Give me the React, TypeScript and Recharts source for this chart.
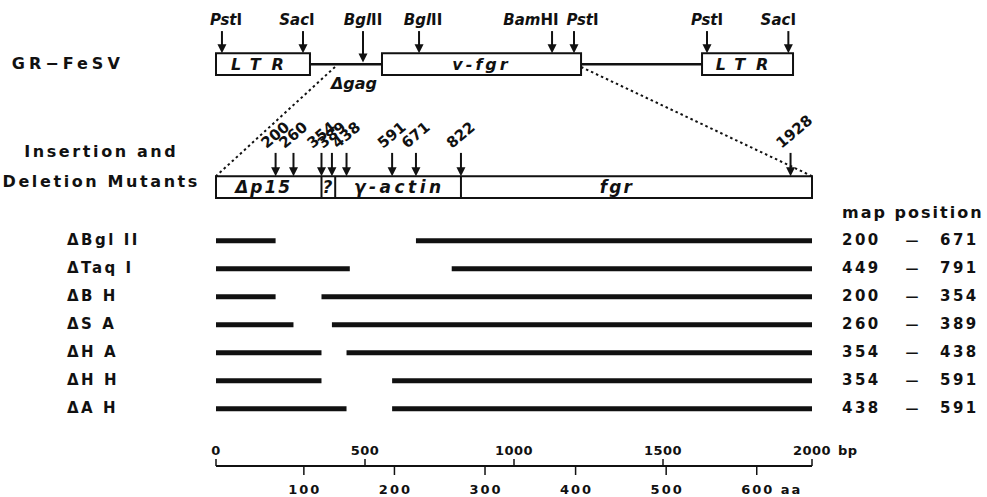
import React from 'react';
import { ComposedChart, XAxis, YAxis, Line, ReferenceArea, ReferenceLine, ReferenceDot } from 'recharts';

// deletion mutants: map positions (bp) of the deleted stretch
const mutantNames = ['ΔBgl II', 'ΔTaq I', 'ΔB H', 'ΔS A', 'ΔH A', 'ΔH H', 'ΔA H'];
const deletionStart = [200, 449, 200, 260, 354, 354, 438];
const deletionEnd = [671, 791, 354, 389, 438, 591, 591];

// insertion sites on the expanded map
const insertionSites = [200, 260, 354, 389, 438, 591, 671, 822, 1928];

// domains of the insert
const regionNames = ['Δp15', '?', 'γ-actin', 'fgr'];
const regionBounds = [0, 354, 400, 822, 2000];
const regionLabelAt = [160, 377, 615, 1345];

// provirus map (genome units)
const boxNames = ['LTR', 'v-fgr', 'LTR'];
const boxStart = [0, 1671, 4893];
const boxEnd = [946, 3675, 5809];
const siteEnzymes = ['PstI', 'SacI', 'BglII', 'BglII', 'BamHI', 'PstI', 'PstI', 'SacI'];
const sitePos = [60, 876, 1480, 2044, 3383, 3604, 4943, 5762];
const siteLabelAt = [101, 815, 1480, 2084, 3171, 3690, 4943, 5661];
const gagDeletionAt = 1198;
const gagLabelAt = 1389;

const bpTicks = [0, 500, 1000, 1500, 2000];
const aaTicks = [100, 200, 300, 400, 500, 600];

const BP_MAX = 2000;
const GENOME_MAX = 6000;
const AA_DOMAIN: [number, number] = [3, 661];

// extent of each x scale (bp, amino acids, provirus)
const axisFrame = [
  { x: 0, aa: AA_DOMAIN[0], g: 0 },
  { x: BP_MAX, aa: AA_DOMAIN[1], g: GENOME_MAX },
];

// vertical layout, in row units (one row per mutant)
const ROW_DOMAIN: [number, number] = [-8.6, 8.04];
const GENOME_Y = -6.31;
const BOX_HALF = 0.39;
const SITE_TOP = -7.49;
const SITE_LABEL_Y = -7.71;
const INS_TOP = -2.31;
const INS_BOTTOM = -1.53;
const INS_ARROW_TOP = -3.14;
const rowIndex = mutantNames.map((_, i) => i);

const FONT = '"DejaVu Sans", Verdana, sans-serif';
const INK = '#111';
const boldText = { fontFamily: FONT, fontSize: 15, fontWeight: 700, fill: INK, letterSpacing: 2.5 };
const titleText = { fontFamily: FONT, fontSize: 16, fontWeight: 700, fill: INK, letterSpacing: 2.6 };
const italicText = { fontFamily: FONT, fontSize: 16, fontStyle: 'italic', fontWeight: 700, fill: INK };

const Arrow = (p: any) => {
  const { x1, y1, x2, y2 } = p;
  return (
    <g>
      <line x1={x1} y1={y1} x2={x2} y2={y2 - 7} stroke={INK} strokeWidth={2} />
      <path d={`M${x2 - 4.5},${y2 - 9}L${x2 + 4.5},${y2 - 9}L${x2},${y2}Z`} fill={INK} />
    </g>
  );
};

const textAt = (content: React.ReactNode, style: any, anchor = 'middle') => (p: any) => (
  <text x={p.cx} y={p.cy} textAnchor={anchor} style={style}>
    {content}
  </text>
);

const enzymeLabel = (name: string) => {
  const m = name.match(/^([A-Z][a-z]+)(.*)$/);
  return (
    <>
      <tspan fontStyle="italic">{m ? m[1] : name}</tspan>
      <tspan fontStyle="normal">{m ? m[2] : ''}</tspan>
    </>
  );
};

const MutantTick = (p: any) => (
  <text x={p.x - 149} y={p.y + 4} textAnchor="start" style={boldText}>
    {mutantNames[p.payload.value]}
  </text>
);

const PositionTick = (p: any) => {
  const i = p.payload.value;
  return (
    <g style={boldText}>
      <text x={p.x + 30} y={p.y + 4} textAnchor="start">{deletionStart[i]}</text>
      <text x={p.x + 100} y={p.y + 4} textAnchor="middle" style={{ fontSize: 13, letterSpacing: 0 }}>—</text>
      <text x={p.x + 128} y={p.y + 4} textAnchor="start">{deletionEnd[i]}</text>
    </g>
  );
};

const BpTick = (p: any) => {
  const v = p.payload.value;
  const style = { ...boldText, fontSize: 13, letterSpacing: 0.5 };
  return (
    <g>
      <text x={p.x} y={p.y - 4} textAnchor="middle" style={style}>{v}</text>
      {v === BP_MAX && (
        <text x={p.x + 26} y={p.y - 4} textAnchor="start" style={style}>bp</text>
      )}
    </g>
  );
};

const AaTick = (p: any) => {
  const v = p.payload.value;
  const style = { ...boldText, fontSize: 13, letterSpacing: 2 };
  return (
    <g>
      <text x={p.x + 1} y={p.y + 19} textAnchor="middle" style={style}>{v}</text>
      {v === aaTicks[aaTicks.length - 1] && (
        <text x={p.x + 24} y={p.y + 19} textAnchor="start" style={style}>aa</text>
      )}
    </g>
  );
};

export default function App() {
  const insideBox = (x: number) => boxStart.some((s, i) => x >= s && x <= boxEnd[i]);

  return (
    <div style={{ position: 'absolute', left: 0, top: 0, background: '#fff' }}>
      <ComposedChart width={987} height={497} data={axisFrame} margin={{ top: 0, right: 0, bottom: 0, left: 0 }}>
        <XAxis
          xAxisId="bp"
          dataKey="x"
          type="number"
          domain={[0, BP_MAX]}
          ticks={bpTicks}
          interval={0}
          height={1}
          tickSize={-7}
          tickMargin={0}
          axisLine={{ stroke: INK, strokeWidth: 2 }}
          tickLine={{ stroke: INK, strokeWidth: 1.5 }}
          tick={<BpTick />}
          allowDataOverflow
        />
        <XAxis
          xAxisId="codon"
          dataKey="aa"
          type="number"
          domain={AA_DOMAIN}
          ticks={aaTicks}
          interval={0}
          height={30}
          tickSize={8}
          tickMargin={0}
          axisLine={false}
          tickLine={{ stroke: INK, strokeWidth: 1.5 }}
          tick={<AaTick />}
          allowDataOverflow
        />
        <XAxis xAxisId="genome" dataKey="g" type="number" domain={[0, GENOME_MAX]} orientation="top" height={1} hide allowDataOverflow />
        <YAxis
          yAxisId="row"
          type="number"
          domain={ROW_DOMAIN}
          reversed
          width={216}
          ticks={rowIndex}
          interval={0}
          tickSize={0}
          tickMargin={0}
          axisLine={false}
          tickLine={false}
          tick={<MutantTick />}
          allowDataOverflow
        />
        <YAxis
          yAxisId="pos"
          orientation="right"
          type="number"
          domain={ROW_DOMAIN}
          reversed
          width={175}
          ticks={rowIndex}
          interval={0}
          tickSize={0}
          tickMargin={0}
          axisLine={false}
          tickLine={false}
          tick={<PositionTick />}
          allowDataOverflow
        />

        {/* provirus map */}
        <Line
          xAxisId="genome"
          yAxisId="row"
          data={[{ g: boxEnd[0], y: GENOME_Y }, { g: boxStart[1], y: GENOME_Y }]}
          dataKey="y"
          stroke={INK}
          strokeWidth={2.5}
          dot={false}
          activeDot={false}
          isAnimationActive={false}
        />
        <Line
          xAxisId="genome"
          yAxisId="row"
          data={[{ g: boxEnd[1], y: GENOME_Y }, { g: boxStart[2], y: GENOME_Y }]}
          dataKey="y"
          stroke={INK}
          strokeWidth={2.5}
          dot={false}
          activeDot={false}
          isAnimationActive={false}
        />
        {boxNames.map((name, i) => (
          <ReferenceArea
            key={`box${i}`}
            xAxisId="genome"
            yAxisId="row"
            x1={boxStart[i]}
            x2={boxEnd[i]}
            y1={GENOME_Y - BOX_HALF}
            y2={GENOME_Y + BOX_HALF}
            fill="#fff"
            fillOpacity={1}
            stroke={INK}
            strokeWidth={2}
          />
        ))}
        {boxNames.map((name, i) => (
          <ReferenceDot
            key={`boxl${i}`}
            xAxisId="genome"
            yAxisId="row"
            x={(boxStart[i] + boxEnd[i]) / 2}
            y={GENOME_Y + 0.2}
            ifOverflow="visible"
            shape={textAt(name, { ...italicText, letterSpacing: name === 'LTR' ? 11 : 3 })}
          />
        ))}
        {sitePos.map((x, i) => (
          <ReferenceLine
            key={`gs${i}`}
            xAxisId="genome"
            yAxisId="row"
            segment={[{ x, y: SITE_TOP }, { x, y: insideBox(x) ? GENOME_Y - BOX_HALF : GENOME_Y - 0.06 }]}
            shape={Arrow}
          />
        ))}
        {siteEnzymes.map((name, i) => (
          <ReferenceDot
            key={`gl${i}`}
            xAxisId="genome"
            yAxisId="row"
            x={siteLabelAt[i]}
            y={SITE_LABEL_Y}
            ifOverflow="visible"
            shape={textAt(enzymeLabel(name), { ...italicText, fontSize: 15, fontStyle: 'normal' })}
          />
        ))}
        <ReferenceDot xAxisId="genome" yAxisId="row" x={gagLabelAt} y={-5.42} ifOverflow="visible" shape={textAt('Δgag', italicText)} />
        <ReferenceDot xAxisId="bp" yAxisId="row" x={-685} y={GENOME_Y + 0.17} ifOverflow="visible" shape={textAt('GR−FeSV', { ...titleText, letterSpacing: 4 }, 'start')} />

        {/* zoom lines onto the insert */}
        <ReferenceLine xAxisId="genome" yAxisId="row" segment={[{ x: gagDeletionAt, y: GENOME_Y + 0.1 }, { x: 0, y: INS_TOP }]} stroke={INK} strokeWidth={2} strokeDasharray="2.5 3" />
        <ReferenceLine xAxisId="genome" yAxisId="row" segment={[{ x: boxEnd[1], y: GENOME_Y + 0.1 }, { x: GENOME_MAX, y: INS_TOP }]} stroke={INK} strokeWidth={2} strokeDasharray="2.5 3" />

        {/* expanded insert map */}
        <ReferenceArea xAxisId="bp" yAxisId="row" x1={0} x2={BP_MAX} y1={INS_TOP} y2={INS_BOTTOM} fill="#fff" fillOpacity={1} stroke={INK} strokeWidth={2} />
        {regionBounds.slice(1, -1).map((x, i) => (
          <ReferenceLine key={`rb${i}`} xAxisId="bp" yAxisId="row" segment={[{ x, y: INS_TOP }, { x, y: INS_BOTTOM }]} stroke={INK} strokeWidth={2} />
        ))}
        {regionNames.map((name, i) => (
          <ReferenceDot
            key={`rl${i}`}
            xAxisId="bp"
            yAxisId="row"
            x={regionLabelAt[i]}
            y={INS_BOTTOM - 0.18}
            ifOverflow="visible"
            shape={textAt(name, { ...italicText, fontSize: 17, letterSpacing: name === 'γ-actin' ? 3.5 : 2 })}
          />
        ))}
        {insertionSites.map((x, i) => (
          <ReferenceLine key={`is${i}`} xAxisId="bp" yAxisId="row" segment={[{ x, y: INS_ARROW_TOP }, { x, y: INS_TOP }]} shape={Arrow} />
        ))}
        {insertionSites.map((x, i) => (
          <ReferenceDot
            key={`il${i}`}
            xAxisId="bp"
            yAxisId="row"
            x={x}
            y={INS_ARROW_TOP}
            ifOverflow="visible"
            shape={(p: any) => (
              <text
                x={p.cx - 9}
                y={p.cy - 4}
                transform={`rotate(-40 ${p.cx - 9} ${p.cy - 4})`}
                style={{ fontFamily: FONT, fontSize: 15, fontWeight: 700, fill: INK }}
              >
                {x}
              </text>
            )}
          />
        ))}
        <ReferenceDot xAxisId="bp" yAxisId="row" x={-385} y={-2.99} ifOverflow="visible" shape={textAt('Insertion and', titleText)} />
        <ReferenceDot xAxisId="bp" yAxisId="row" x={-385} y={-1.92} ifOverflow="visible" shape={textAt('Deletion Mutants', titleText)} />
        <ReferenceDot xAxisId="bp" yAxisId="row" x={2101} y={-0.81} ifOverflow="visible" shape={textAt('map position', { ...titleText, letterSpacing: 2 }, 'start')} />

        {/* remaining sequence of each mutant */}
        {rowIndex.map((i) => (
          <Line
            key={`left${i}`}
            xAxisId="bp"
            yAxisId="row"
            data={[{ x: 0, y: i }, { x: deletionStart[i], y: i }]}
            dataKey="y"
            stroke={INK}
            strokeWidth={5}
            dot={false}
            activeDot={false}
            isAnimationActive={false}
          />
        ))}
        {rowIndex.map((i) => (
          <Line
            key={`right${i}`}
            xAxisId="bp"
            yAxisId="row"
            data={[{ x: deletionEnd[i], y: i }, { x: BP_MAX, y: i }]}
            dataKey="y"
            stroke={INK}
            strokeWidth={5}
            dot={false}
            activeDot={false}
            isAnimationActive={false}
          />
        ))}
      </ComposedChart>
    </div>
  );
}
